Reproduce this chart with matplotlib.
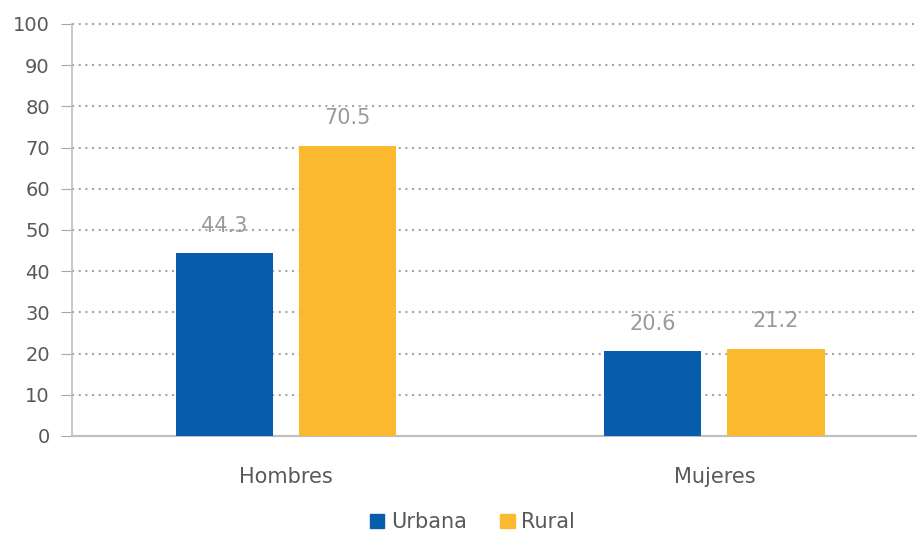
import matplotlib
matplotlib.use("Agg")
import matplotlib.pyplot as plt
import numpy as np
from matplotlib.patches import Patch

categories = ["Hombres", "Mujeres"]
urbana = [44.3, 20.6]
rural = [70.5, 21.2]
series_names = ["Urbana", "Rural"]
colors = ["#075DAB", "#FBB930"]
yticks = list(range(0, 101, 10))

plt.rcParams['font.family'] = ['DejaVu Sans']

fig = plt.figure(figsize=(9.17, 5.33), dpi=100)
ax = fig.add_axes([0.0785, 0.182, 0.92, 0.773])

x = np.arange(len(categories))
w = 0.227
off = 0.144
b1 = ax.bar(x - off, urbana, w, color=colors[0], zorder=3)
b2 = ax.bar(x + off, rural, w, color=colors[1], zorder=3)

for bars, vals in ((b1, urbana), (b2, rural)):
    for b, v in zip(bars, vals):
        ax.text(b.get_x() + b.get_width() / 2, v + 4.2, f"{v:.1f}", ha="center", va="bottom",
                fontsize=15, color="#9A9A9A")

ax.set_xlim(-0.5, 1.47)
ax.set_ylim(0, 100)
ax.set_yticks(yticks)
ax.set_yticklabels([str(t) for t in yticks], fontsize=14, color="#595959")
ax.set_xticks(x)
ax.set_xticklabels(categories, fontsize=15, color="#595959")
ax.tick_params(axis='x', length=0, pad=22)
ax.tick_params(axis='y', length=8, color="#A6A6A6", pad=8)
ax.yaxis.grid(True, linestyle=(0, (1, 2.2)), color="#A6A6A6", linewidth=1.5, zorder=0)
for gl in ax.get_ygridlines():
    gl.set_clip_on(False)
for s in ["top", "right"]:
    ax.spines[s].set_visible(False)
ax.spines["left"].set_color("#BFBFBF")
ax.spines["bottom"].set_color("#BFBFBF")
ax.spines["left"].set_linewidth(1.2)
ax.spines["bottom"].set_linewidth(1.5)

handles = [Patch(color=c, label=n) for c, n in zip(colors, series_names)]
leg = fig.legend(handles=handles, loc="center", bbox_to_anchor=(0.515, 0.02), ncol=2,
                 frameon=False, fontsize=15, handlelength=0.7, handleheight=0.7,
                 handletextpad=0.3, columnspacing=1.6)
for t in leg.get_texts():
    t.set_color("#595959")

fig.savefig("out.png", dpi=100)
